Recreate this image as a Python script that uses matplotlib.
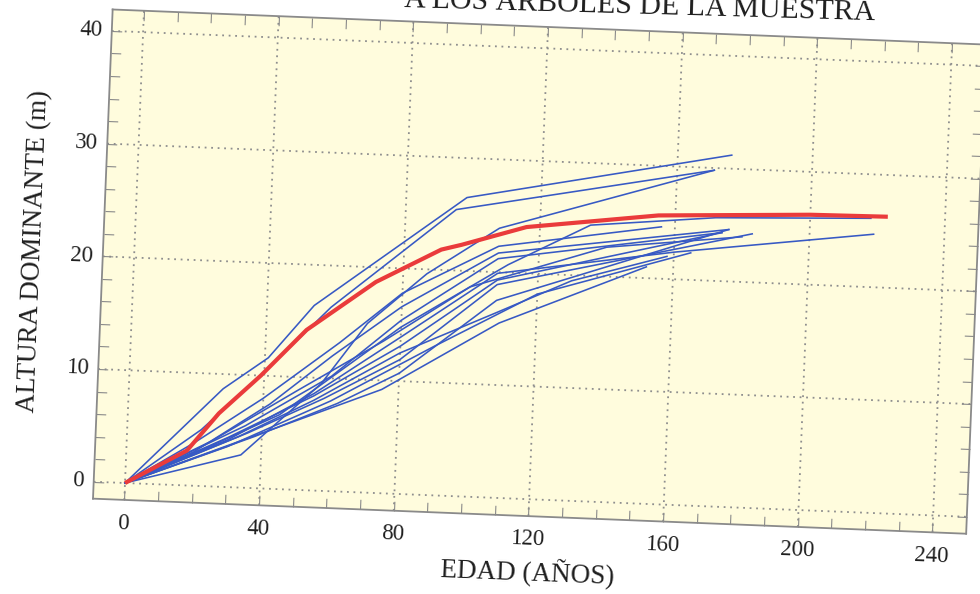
import numpy as np
import matplotlib
matplotlib.use("Agg")
import matplotlib.pyplot as plt
from matplotlib.transforms import Affine2D
import mpl_toolkits.axisartist.floating_axes as floating_axes
from mpl_toolkits.axisartist.grid_finder import FixedLocator

# --- datos: edad (años) y altura dominante (m) de cada árbol ---
media_edad = [0, 18, 27, 39, 52, 72, 91, 97, 116, 155, 200, 223]
media_alt = [0, 3.1, 6.5, 10.0, 14.2, 18.7, 21.8, 22.3, 24.1, 25.6, 26.2, 26.3]

a01_edad = [0, 28, 41, 54, 98, 176]
a01_alt = [0, 8.7, 11.6, 16.4, 26.5, 31.2]
a02_edad = [0, 22, 40, 59, 95, 171]
a02_alt = [0, 5.0, 10.3, 16.3, 25.4, 29.8]
a03_edad = [0, 34, 57, 70, 87, 108, 171]
a03_alt = [0, 2.9, 9.5, 15.0, 19.6, 23.9, 29.8]
a04_edad = [0, 20, 40, 62, 80, 108, 156]
a04_alt = [0, 3.8, 8.0, 13.2, 17.8, 22.3, 24.6]
a05_edad = [0, 25, 45, 80, 111, 135, 172, 218]
a05_alt = [0, 3.6, 6.6, 14.8, 20.7, 24.5, 25.6, 26.1]
a06_edad = [0, 30, 55, 80, 108, 160, 219]
a06_alt = [0, 4.2, 8.6, 13.9, 19.9, 22.4, 24.7]
a07_edad = [0, 20, 42, 60, 80, 108, 176]
a07_alt = [0, 3.0, 7.5, 12.0, 16.6, 21.7, 24.6]
a08_edad = [0, 35, 60, 80, 108, 174]
a08_alt = [0, 5.5, 10.2, 15.4, 21.2, 24.3]
a09_edad = [0, 30, 55, 80, 108, 174]
a09_alt = [0, 4.4, 8.4, 13.1, 19.3, 24.3]
a10_edad = [0, 36, 58, 80, 108, 183]
a10_alt = [0, 4.9, 8.2, 11.9, 18.9, 24.3]
a11_edad = [0, 38, 62, 80, 108, 176]
a11_alt = [0, 4.6, 7.8, 10.7, 17.5, 24.6]
a12_edad = [0, 33, 55, 80, 108, 130, 158]
a12_alt = [0, 4.5, 8.0, 12.5, 16.4, 19.5, 22.0]
a13_edad = [0, 75, 109, 152]
a13_alt = [0, 9.2, 15.5, 21.0]
a14_edad = [0, 25, 50, 75, 100, 140, 180]
a14_alt = [0, 4.0, 8.8, 13.5, 18.6, 22.6, 24.0]
a15_edad = [0, 30, 60, 90, 120, 165]
a15_alt = [0, 3.6, 8.0, 13.2, 18.2, 22.4]

arboles = [
    (a01_edad, a01_alt), (a02_edad, a02_alt), (a03_edad, a03_alt),
    (a04_edad, a04_alt), (a05_edad, a05_alt), (a06_edad, a06_alt),
    (a07_edad, a07_alt), (a08_edad, a08_alt), (a09_edad, a09_alt),
    (a10_edad, a10_alt), (a11_edad, a11_alt), (a12_edad, a12_alt),
    (a13_edad, a13_alt), (a14_edad, a14_alt), (a15_edad, a15_alt),
]

x_ticks = np.arange(0, 250, 10)
x_labels_step = 40
y_ticks = np.arange(0, 42, 2)
y_labels_step = 10
x_lim = (-9.3, 250.0)
y_lim = (-1.5, 41.9)

# --- layout (pixels) ---
W, H = 980, 594
ANG = -2.3                    # page is slightly tilted
PX_X, PX_Y = 3.37, 11.28      # pixels per year / per metre
ORIGIN = (125, H - 483)       # pixel position of (0, 0)
SERIF = "Liberation Serif"
GRID_C = "#8e8e8e"
FRAME_C = "#8a8a8a"
TEXT_C = "#1e1e1e"


def fmt_x(direction, factor, values):
    return [f"{v:g}" if v % x_labels_step == 0 else "" for v in values]


def fmt_y(direction, factor, values):
    return [f"{v:g}" if v % y_labels_step == 0 else "" for v in values]


tr = Affine2D().scale(PX_X, PX_Y).rotate_deg(ANG)
grid_helper = floating_axes.GridHelperCurveLinear(
    tr, extremes=(*x_lim, *y_lim),
    grid_locator1=FixedLocator(x_ticks), grid_locator2=FixedLocator(y_ticks),
    tick_formatter1=fmt_x, tick_formatter2=fmt_y)

# host axes box = bbox of the rotated frame (expanded 2% like FloatingAxes does)
corners = tr.transform([[x_lim[0], y_lim[0]], [x_lim[1], y_lim[0]],
                        [x_lim[1], y_lim[1]], [x_lim[0], y_lim[1]]])
lo, hi = corners.min(axis=0), corners.max(axis=0)
ctr, size = (lo + hi) / 2, (hi - lo) * 1.02
lo_e = ctr - size / 2
rect = [(ORIGIN[0] + lo_e[0]) / W, (ORIGIN[1] + lo_e[1]) / H, size[0] / W, size[1] / H]

fig = plt.figure(figsize=(W / 100, H / 100), dpi=100)
fig.patch.set_facecolor("white")
ax = fig.add_axes(rect, axes_class=floating_axes.FloatingAxes, grid_helper=grid_helper)
ax.patch.set_facecolor("#fffcdd")
aux = ax.get_aux_axes(tr)

# dotted grid every 40 years / 10 m
for xv in x_ticks[x_ticks % x_labels_step == 0]:
    aux.plot([xv, xv], y_lim, ls=(0, (1, 2.6)), lw=1.3, color=GRID_C, zorder=1)
for yv in y_ticks[y_ticks % y_labels_step == 0]:
    aux.plot(x_lim, [yv, yv], ls=(0, (1, 2.6)), lw=1.3, color=GRID_C, zorder=1)

for edad, alt in arboles:
    aux.plot(edad, alt, color="#3759c4", lw=1.15, zorder=3)
aux.plot(media_edad, media_alt, color="#ea3b3b", lw=3.0, zorder=4,
         solid_capstyle="butt")

for side in ["left", "right", "top", "bottom"]:
    axis = ax.axis[side]
    axis.line.set_color(FRAME_C)
    axis.line.set_linewidth(1.3)
    axis.major_ticks.set_ticksize(7)
    axis.major_ticks.set_color(FRAME_C)
    axis.major_ticks.set_linewidth(1.0)

for side in ["left", "bottom"]:
    tl = ax.axis[side].major_ticklabels
    tl.set_fontfamily(SERIF)
    tl.set_fontsize(16.5)
    tl.set_color(TEXT_C)
ax.axis["bottom"].major_ticklabels.set_pad(10)
ax.axis["left"].major_ticklabels.set_pad(7)

ax.axis["bottom"].label.set_text("EDAD (AÑOS)")
ax.axis["left"].label.set_text("ALTURA DOMINANTE (m)")
for side in ["left", "bottom"]:
    lab = ax.axis[side].label
    lab.set_fontfamily(SERIF)
    lab.set_fontsize(19.5)
    lab.set_color(TEXT_C)
    lab.set_visible(True)
ax.axis["bottom"].label.set_pad(9)
ax.axis["left"].label.set_pad(17)

# title line, partly running off the top of the page
fig.text(875 / W, (H - 20) / H, "A LOS ÁRBOLES DE LA MUESTRA",
         ha="right", va="baseline", rotation=-1.6, rotation_mode="anchor",
         fontsize=21.5, family=SERIF, color=TEXT_C)

fig.savefig("out.png", dpi=100)
